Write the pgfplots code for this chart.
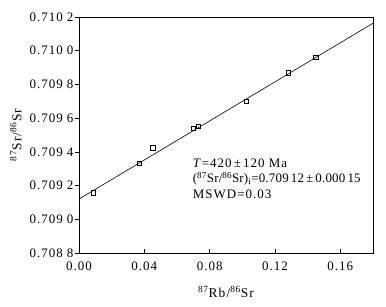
\documentclass[border=0pt]{standalone}
\usepackage{fontspec}
\setmainfont{Liberation Serif}[LetterSpace=8]
\newfontfamily\tickfont{Liberation Serif}[LetterSpace=8]
\newfontfamily\plainfont{Liberation Serif}[LetterSpace=1.5]
\usepackage{pgfplots}
\pgfplotsset{compat=1.18}
\newcommand{\gap}{\hspace{0.3em}}
\begin{document}
\begin{tikzpicture}
\begin{axis}[
  scale only axis, width=294bp, height=236bp,
  xmin=0, xmax=0.18, ymin=0.7088, ymax=0.7102,
  xtick={0,0.04,0.08,0.12,0.16},
  xticklabels={0.00,0.04,0.08,0.12,0.16},
  ytick={0.7088,0.7090,0.7092,0.7094,0.7096,0.7098,0.7100,0.7102},
  yticklabels={0.708\gap8,0.709\gap0,0.709\gap2,0.709\gap4,0.709\gap6,0.709\gap8,0.710\gap0,0.710\gap2},
  xtick align=inside, ytick align=outside,
  xtick pos=bottom, ytick pos=left,
  major tick length=4bp,
  tick style={black, line width=0.6pt},
  axis line style={line width=0.7pt},
  ticklabel style={font=\tickfont\fontsize{13}{15}\selectfont},
  xticklabel style={yshift=-5bp},
  yticklabel style={inner sep=1.5bp},
  scaled ticks=false,
  xlabel={\textsuperscript{87}Rb/\textsuperscript{86}Sr},
  ylabel={\textsuperscript{87}Sr/\textsuperscript{86}Sr},
  label style={font=\fontsize{13.5}{15}\selectfont},
  xlabel style={at={(axis description cs:0.5,-0.19)}, anchor=base},
  ylabel style={at={(axis description cs:-0.215,0.5)}, anchor=center},
]
\addplot[black, line width=0.6pt] coordinates {(0,0.70912) (0.18,0.710163)};
\addplot[only marks, mark=square, mark size=2.2bp, mark options={line width=0.6pt, black}] coordinates {
  (0.0086,0.709156) (0.0369,0.709332) (0.0451,0.709425) (0.0700,0.709540)
  (0.0730,0.709550) (0.1023,0.709700) (0.1280,0.709870) (0.1451,0.709960)};
\node[anchor=base west, font=\fontsize{13}{15}\selectfont, inner sep=0pt] at (axis cs:0.0696,0.709310) {\textit{T}=420\,±\,120 Ma};
\node[anchor=base west, font=\plainfont\fontsize{13}{15}\selectfont, inner sep=0pt] at (axis cs:0.0696,0.709218) {(\textsuperscript{87}Sr/\textsuperscript{86}Sr)\textsubscript{i}=0.709\,12\,±\,0.000\,15};
\node[anchor=base west, font=\fontsize{13}{15}\selectfont, inner sep=0pt] at (axis cs:0.0696,0.709125) {MSWD=0.03};
\end{axis}
\path[use as bounding box] ([shift={(-79bp,-54bp)}]current axis.south west) rectangle ([shift={(13bp,17bp)}]current axis.north east);
\end{tikzpicture}
\end{document}
